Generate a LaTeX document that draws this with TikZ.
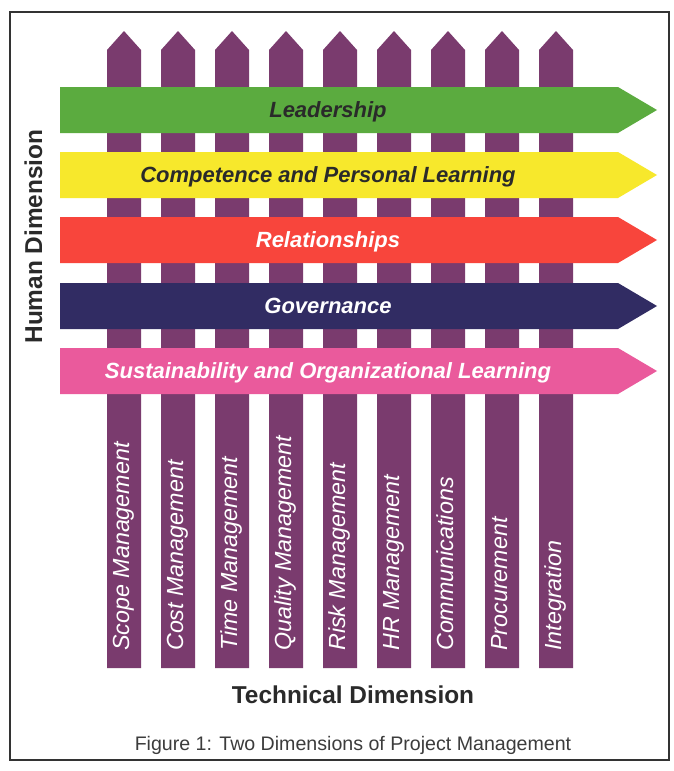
\documentclass[tikz,border=0pt]{standalone}
\usepackage{fontspec}
\setmainfont{Liberation Sans}
\definecolor{pillarc}{HTML}{7A3B6E}
\definecolor{greenc}{HTML}{5BAB3F}
\definecolor{yellowc}{HTML}{F7E82C}
\definecolor{redc}{HTML}{F8453C}
\definecolor{navyc}{HTML}{312C63}
\definecolor{pinkc}{HTML}{EA5A9C}
\definecolor{darktext}{HTML}{2A2A2A}
\definecolor{captionc}{HTML}{3C3C3C}
\definecolor{framec}{HTML}{333333}
\begin{document}
\begin{tikzpicture}[x=1pt,y=-1pt,
  pillar/.style={fill=pillarc, draw=none},
  bandtext/.style={font=\bfseries\itshape\fontsize{22}{24}\selectfont, anchor=base, inner sep=0pt},
  pilltext/.style={font=\itshape\fontsize{23.3}{25}\selectfont, text=white, rotate=90, anchor=base west, inner sep=0pt},
  dimtext/.style={font=\bfseries\fontsize{24.4}{26}\selectfont, text=darktext, inner sep=0pt}]
\useasboundingbox (0,0) rectangle (674,771);
\fill[white] (0,0) rectangle (674,771);
\draw[framec, line width=1.6pt] (10,12) rectangle (669,760);
% pillars
\foreach \i/\t in {0/Scope Management,1/Cost Management,2/Time Management,3/Quality Management,4/Risk Management,5/HR Management,6/Communications,7/Procurement,8/Integration}{
  \pgfmathsetmacro\cx{124+54*\i}
  \fill[pillar] (\cx-17,668) -- (\cx-17,50) -- (\cx,31) -- (\cx+17,50) -- (\cx+17,668) -- cycle;
  \node[pilltext] (p\i) at (\cx+5,651) {\t};
}
% bands
\foreach \n/\tp/\col/\tc/\t in {1/87/greenc/darktext/Leadership,2/152/yellowc/darktext/Competence and Personal Learning,3/217/redc/white/Relationships,4/283/navyc/white/Governance,5/348/pinkc/white/Sustainability and Organizational Learning}{
  \fill[\col] (60,\tp) -- (618,\tp) -- (657,\tp+23) -- (618,\tp+46) -- (60,\tp+46) -- cycle;
  \node[bandtext, text=\tc] (b\n) at (328,\tp+30.5) {\t};
}
\node[dimtext, rotate=90] (hd) at (33.5,236.5) {Human Dimension};
\node[dimtext] (td) at (353,695) {Technical Dimension};
\node[font=\fontsize{19.6}{21}\selectfont, text=captionc, anchor=base, inner sep=0pt] (cap) at (353,750) {Figure 1: Two Dimensions of Project Management};
\end{tikzpicture}
\end{document}
